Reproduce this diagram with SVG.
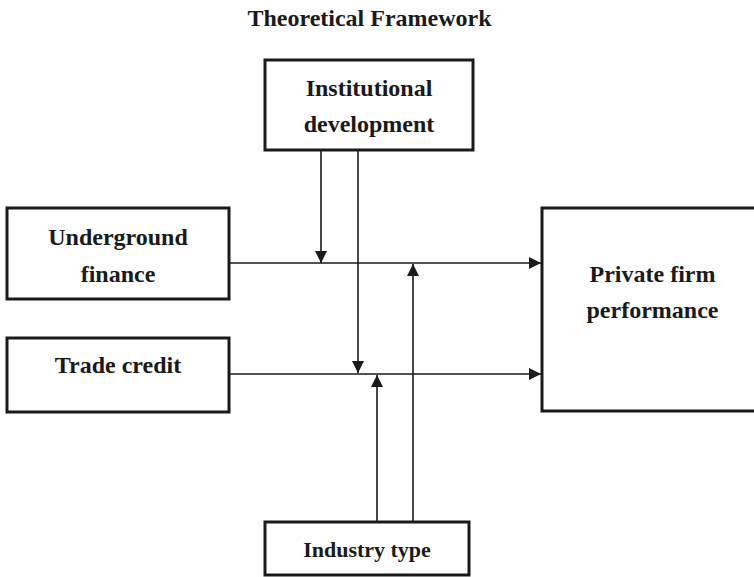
<svg xmlns="http://www.w3.org/2000/svg" width="754" height="577" viewBox="0 0 754 577">
<style>
.box{fill:#fff;stroke:#1a1a1a;stroke-width:3}
.t{font-family:"Liberation Serif","Times New Roman",serif;font-weight:bold;font-size:24px;fill:#1a1a1a;text-anchor:middle}
.ln{stroke:#1a1a1a;stroke-width:1.6;fill:none;marker-end:url(#ah)}
</style>
<defs>
<marker id="ah" markerUnits="userSpaceOnUse" markerWidth="12" markerHeight="12" viewBox="0 0 12 12" refX="12" refY="6" orient="auto">
<path d="M0,0 L12,6 L0,12 Z" fill="#1a1a1a"/>
</marker>
</defs>
<rect width="754" height="577" fill="#fff"/>
<text class="t" x="369.5" y="26">Theoretical Framework</text>
<g id="connectors">
<line class="ln" x1="229" y1="263" x2="541" y2="263"/>
<line class="ln" x1="229" y1="374" x2="541" y2="374"/>
<line class="ln" x1="321" y1="150" x2="321" y2="263"/>
<line class="ln" x1="358" y1="150" x2="358" y2="373"/>
<line class="ln" x1="377" y1="522" x2="377" y2="375"/>
<line class="ln" x1="413" y1="522" x2="413" y2="264"/>
</g>
<g id="institutional">
<rect class="box" x="265" y="60" width="208" height="90"/>
<text class="t" x="369" y="96">Institutional</text>
<text class="t" x="369" y="132">development</text>
</g>
<g id="underground">
<rect class="box" x="7" y="208" width="222" height="91"/>
<text class="t" x="118" y="245">Underground</text>
<text class="t" x="118" y="282">finance</text>
</g>
<g id="trade">
<rect class="box" x="7" y="338" width="222" height="74"/>
<text class="t" x="118" y="373">Trade credit</text>
</g>
<g id="private">
<rect class="box" x="542" y="208" width="222" height="203"/>
<text class="t" x="652.5" y="282">Private firm</text>
<text class="t" x="652.5" y="318">performance</text>
</g>
<g id="industry">
<rect class="box" x="265" y="522" width="204" height="53"/>
<text class="t" x="367" y="557" style="font-size:22px">Industry type</text>
</g>
</svg>
